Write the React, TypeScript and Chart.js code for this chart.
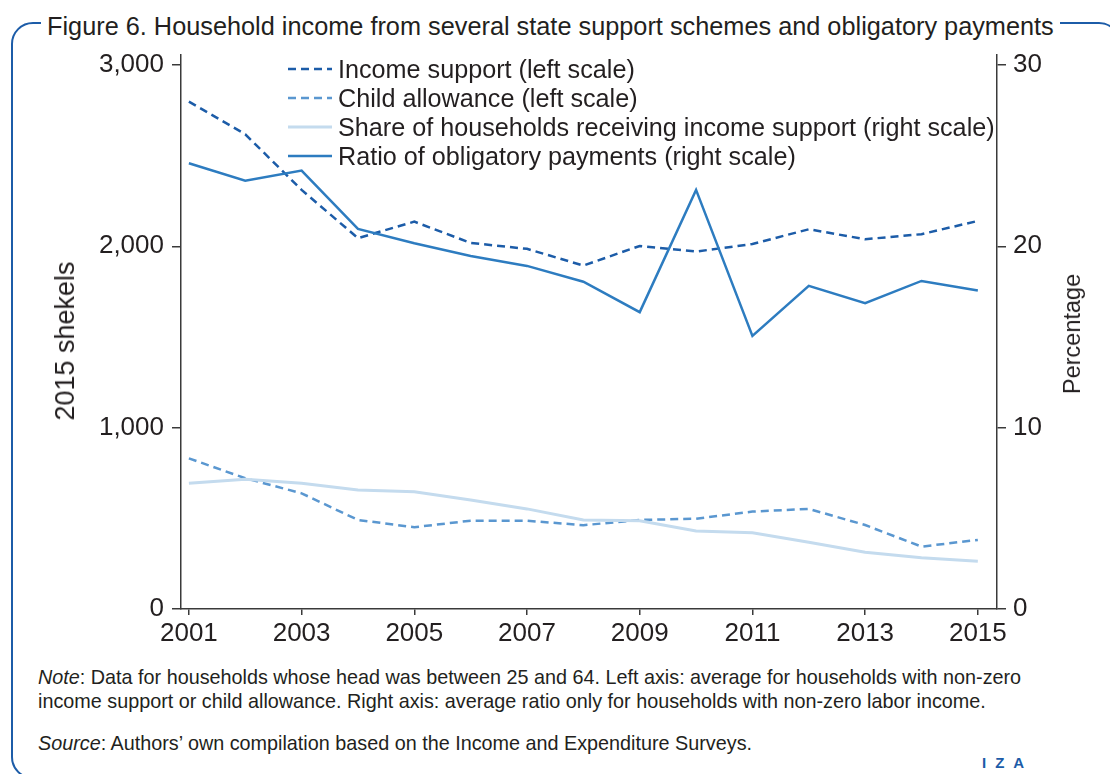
import React, { useEffect, useRef } from "react";
import { Chart, registerables } from "chart.js";

Chart.register(...registerables);

const years = [2001, 2002, 2003, 2004, 2005, 2006, 2007, 2008, 2009, 2010, 2011, 2012, 2013, 2014, 2015];
const incomeSupport = [2798, 2618, 2311, 2045, 2136, 2019, 1986, 1894, 2002, 1971, 2013, 2094, 2039, 2067, 2140];
const childAllowance = [831, 721, 638, 491, 451, 487, 487, 462, 491, 498, 537, 552, 463, 344, 381];
const shareIncomeSupport = [6.93, 7.15, 6.93, 6.56, 6.47, 6.01, 5.52, 4.91, 4.87, 4.3, 4.21, 3.68, 3.13, 2.83, 2.63];
const obligatoryRatio = [24.58, 23.62, 24.18, 20.96, 20.17, 19.47, 18.92, 18.05, 16.37, 23.11, 15.06, 17.82, 16.86, 18.09, 17.56];

const xTicks = [2001, 2003, 2005, 2007, 2009, 2011, 2013, 2015];
const leftTicks = [0, 1000, 2000, 3000];
const rightTicks = [0, 10, 20, 30];

const seriesLabels = [
  "Income support (left scale)",
  "Child allowance (left scale)",
  "Share of households receiving income support (right scale)",
  "Ratio of obligatory payments (right scale)",
];

const FONT = '"Liberation Sans", Arial, "DejaVu Sans", sans-serif';
const TEXT = "#231f20";
const AXIS = "#3a3a3a";
const C_INCOME = "#1c5ca8";
const C_CHILD = "#5a97d0";
const C_SHARE = "#c4dbee";
const C_RATIO = "#2d7cc0";

const legendItems = [
  { label: seriesLabels[0], color: C_INCOME, dash: "8 5", width: 2.5 },
  { label: seriesLabels[1], color: C_CHILD, dash: "8 5", width: 2.5 },
  { label: seriesLabels[2], color: C_SHARE, dash: "", width: 3 },
  { label: seriesLabels[3], color: C_RATIO, dash: "", width: 2.5 },
];

const pts = (vals: number[]) => years.map((yr, i) => ({ x: yr, y: vals[i] }));

export default function App() {
  const ref = useRef<HTMLCanvasElement | null>(null);

  useEffect(() => {
    if (!ref.current) return;
    const tickFont = { family: FONT, size: 26 };
    const chart = new Chart(ref.current, {
      type: "line",
      data: {
        datasets: [
          {
            label: seriesLabels[3],
            data: pts(obligatoryRatio),
            yAxisID: "y1",
            borderColor: C_RATIO,
            borderWidth: 2.5,
            pointRadius: 0,
            tension: 0,
          },
          {
            label: seriesLabels[2],
            data: pts(shareIncomeSupport),
            yAxisID: "y1",
            borderColor: C_SHARE,
            borderWidth: 3,
            pointRadius: 0,
            tension: 0,
          },
          {
            label: seriesLabels[1],
            data: pts(childAllowance),
            yAxisID: "y",
            borderColor: C_CHILD,
            borderWidth: 2.5,
            borderDash: [8, 5],
            pointRadius: 0,
            tension: 0,
          },
          {
            label: seriesLabels[0],
            data: pts(incomeSupport),
            yAxisID: "y",
            borderColor: C_INCOME,
            borderWidth: 2.5,
            borderDash: [8, 5],
            pointRadius: 0,
            tension: 0,
          },
        ],
      },
      options: {
        animation: false,
        responsive: false,
        maintainAspectRatio: false,
        layout: { padding: { top: 55, left: 0, right: 0, bottom: 0 } },
        plugins: {
          legend: { display: false },
          title: { display: false },
          tooltip: { enabled: false },
        },
        scales: {
          x: {
            type: "linear",
            position: "bottom",
            min: 2000.86,
            max: 2015.34,
            afterBuildTicks: (s: any) => {
              s.ticks = xTicks.map((v) => ({ value: v }));
            },
            afterFit: (s: any) => {
              s.height = 51;
            },
            ticks: {
              autoSkip: false,
              maxRotation: 0,
              padding: 3,
              color: TEXT,
              font: tickFont,
              callback: (v: any) => String(v),
            },
            grid: { display: true, drawOnChartArea: false, drawTicks: true, tickLength: 6, color: AXIS, lineWidth: 1.5 },
            border: { display: true, color: AXIS, width: 1.5 },
          },
          y: {
            type: "linear",
            position: "left",
            min: 0,
            max: 3055,
            afterBuildTicks: (s: any) => {
              s.ticks = leftTicks.map((v) => ({ value: v }));
            },
            afterFit: (s: any) => {
              s.width = 181;
            },
            ticks: {
              padding: 8,
              color: TEXT,
              font: tickFont,
              callback: (v: any) => Number(v).toLocaleString("en-US"),
            },
            grid: { display: true, drawOnChartArea: false, drawTicks: true, tickLength: 9, color: AXIS, lineWidth: 1.5 },
            border: { display: true, color: AXIS, width: 1.5 },
          },
          y1: {
            type: "linear",
            position: "right",
            min: 0,
            max: 30.55,
            afterBuildTicks: (s: any) => {
              s.ticks = rightTicks.map((v) => ({ value: v }));
            },
            afterFit: (s: any) => {
              s.width = 113;
            },
            ticks: {
              padding: 7,
              color: TEXT,
              font: tickFont,
              callback: (v: any) => String(v),
            },
            grid: { display: true, drawOnChartArea: false, drawTicks: true, tickLength: 9, color: AXIS, lineWidth: 1.5 },
            border: { display: true, color: AXIS, width: 1.5 },
          },
        },
      },
    });
    return () => chart.destroy();
  }, []);

  const abs: React.CSSProperties = { position: "absolute" };

  return (
    <div
      style={{
        position: "absolute",
        left: 0,
        top: 0,
        width: 1110,
        height: 774,
        overflow: "hidden",
        background: "#fff",
        fontFamily: FONT,
        color: TEXT,
      }}
    >
      <div
        style={{
          ...abs,
          left: 11,
          top: 22,
          width: 1110,
          height: 757,
          boxSizing: "border-box",
          border: "2.5px solid " + C_INCOME,
          borderRadius: 22,
        }}
      />
      <div
        style={{
          ...abs,
          left: 41,
          top: 10,
          height: 32,
          lineHeight: "32px",
          fontSize: 25.3,
          padding: "0 6px",
          background: "#fff",
          whiteSpace: "nowrap",
        }}
      >
        Figure 6. Household income from several state support schemes and obligatory payments
      </div>
      <canvas ref={ref} width={1110} height={660} style={{ ...abs, left: 0, top: 0, display: "block" }} />
      {legendItems.map((it, i) => (
        <div
          key={i}
          style={{
            ...abs,
            left: 288,
            top: 69 + i * 29 - 15,
            height: 30,
            display: "flex",
            alignItems: "center",
            whiteSpace: "nowrap",
            fontSize: 25.2,
          }}
        >
          <svg width={46} height={6} style={{ display: "block" }}>
            <line
              x1={0}
              y1={3}
              x2={44}
              y2={3}
              stroke={it.color}
              strokeWidth={it.width}
              strokeDasharray={it.dash || undefined}
            />
          </svg>
          <span style={{ marginLeft: 4 }}>{it.label}</span>
        </div>
      ))}
      <div
        style={{
          ...abs,
          left: 65,
          top: 341,
          fontSize: 27,
          lineHeight: "30px",
          whiteSpace: "nowrap",
          transform: "translate(-50%, -50%) rotate(-90deg)",
        }}
      >
        2015 shekels
      </div>
      <div
        style={{
          ...abs,
          left: 1072,
          top: 334,
          fontSize: 23.5,
          lineHeight: "30px",
          whiteSpace: "nowrap",
          transform: "translate(-50%, -50%) rotate(-90deg)",
        }}
      >
        Percentage
      </div>
      <div style={{ ...abs, left: 38, top: 665, fontSize: 19.8, lineHeight: "24px", whiteSpace: "nowrap" }}>
        <div>
          <i>Note</i>: Data for households whose head was between 25 and 64. Left axis: average for households with non-zero
        </div>
        <div>income support or child allowance. Right axis: average ratio only for households with non-zero labor income.</div>
      </div>
      <div style={{ ...abs, left: 38, top: 731, fontSize: 19.8, lineHeight: "24px", whiteSpace: "nowrap" }}>
        <i>Source</i>: Authors’ own compilation based on the Income and Expenditure Surveys.
      </div>
      <div
        style={{
          ...abs,
          left: 982,
          top: 753,
          fontSize: 15,
          lineHeight: "20px",
          fontWeight: "bold",
          letterSpacing: 9,
          color: C_INCOME,
          whiteSpace: "nowrap",
        }}
      >
        IZA
      </div>
    </div>
  );
}
